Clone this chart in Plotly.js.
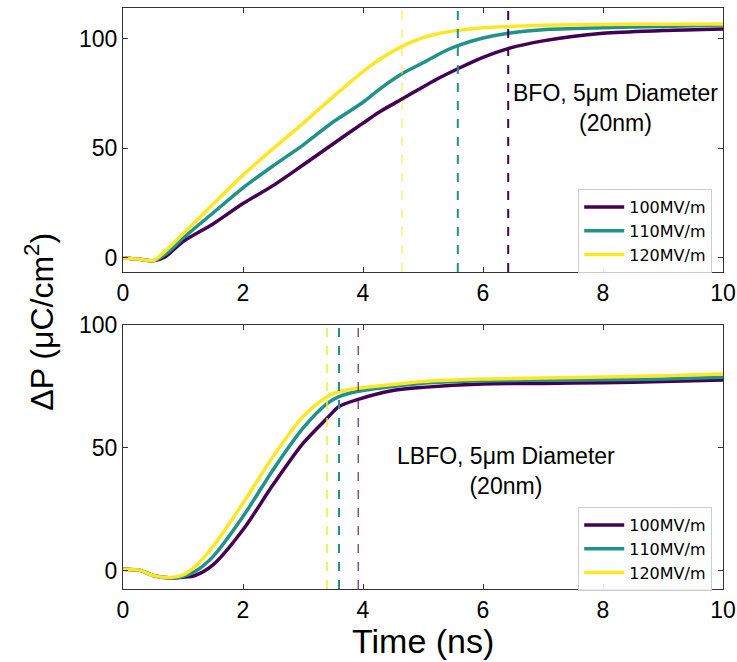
<!DOCTYPE html>
<html><head><meta charset="utf-8">
<script src="https://cdn.plot.ly/plotly-3.0.1.min.js"></script>
<style>html,body{margin:0;padding:0;background:#fff}#chart{width:737px;height:662px}</style>
</head><body><div id="chart"></div>
<script>
const seriesNames = ['100MV/m', '110MV/m', '120MV/m'];
const colors = ['#440154', '#21918c', '#fde725'];

// Top panel: BFO
const timeTop = [0, 0.25, 0.5, 0.7, 1, 1.5, 2, 2.5, 3, 3.5, 4, 4.3, 4.65, 5, 5.3, 5.58, 6, 6.42, 7, 8, 9, 10];
const bfo100 = [0, -0.5, -1.3, 0.5, 7.5, 15.5, 24.8, 33, 42.4, 52, 61.5, 67, 72.5, 78, 82.5, 86.3, 91.5, 95.5, 99, 102.5, 103.7, 104.4];
const bfo110 = [0, -0.5, -1.3, 1.5, 9, 20.5, 32, 42, 51.5, 62, 71, 77.5, 84, 89, 93.5, 96.8, 100.3, 102.5, 104.1, 105, 105.6, 106.2];
const bfo120 = [0, -0.5, -1.2, 3, 11, 24.5, 37.8, 49.8, 61.4, 73.5, 85, 91, 96.5, 100.5, 102.6, 103.8, 105, 105.6, 106.1, 106.5, 106.6, 106.7];
const bfoMarks = [6.42, 5.58, 4.65];

// Bottom panel: LBFO
const timeBot = [0, 0.3, 0.5, 0.8, 1, 1.2, 1.5, 2, 2.5, 3, 3.4, 3.6, 3.92, 4.5, 5, 6, 7, 8, 9, 10];
const lbfo100 = [0.5, 0, -2, -3, -2.7, -2, 2.3, 16.6, 34.9, 51.8, 62, 66.8, 69.7, 73.3, 74.6, 76, 76.2, 76.5, 77, 77.6];
const lbfo110 = [0.5, 0, -2, -3, -2.4, -0.4, 5.7, 22, 41, 58, 68, 70.8, 73, 75, 76.3, 77.3, 77.5, 77.7, 78, 78.7];
const lbfo120 = [0.5, 0, -2, -2.8, -1.8, 1.6, 9.8, 27.4, 46.4, 62.7, 70.8, 72.9, 74.3, 75.8, 77, 78, 78.4, 78.8, 79.3, 80];
const lbfoMarks = [3.92, 3.6, 3.4];

const topWidths = [2, 2, 1];
const botWidths = [1, 2, 1.5];

const topSeries = [bfo100, bfo110, bfo120];
const botSeries = [lbfo100, lbfo110, lbfo120];

const traces = [];
topSeries.forEach((ys, i) => traces.push({
  x: timeTop, y: ys, type: 'scatter', mode: 'lines', name: seriesNames[i],
  line: {color: colors[i], width: 3.5, shape: 'spline', smoothing: 0.8},
  xaxis: 'x', yaxis: 'y', legend: 'legend'
}));
botSeries.forEach((ys, i) => traces.push({
  x: timeBot, y: ys, type: 'scatter', mode: 'lines', name: seriesNames[i],
  line: {color: colors[i], width: 3.5, shape: 'spline', smoothing: 0.8},
  xaxis: 'x2', yaxis: 'y2', legend: 'legend2'
}));

const shapes = [];
bfoMarks.forEach((v, i) => shapes.push({
  type: 'line', xref: 'x', yref: 'y domain', x0: v, x1: v, y0: 0, y1: 1,
  line: {color: colors[i], width: topWidths[i], dash: 'dash'}
}));
lbfoMarks.forEach((v, i) => shapes.push({
  type: 'line', xref: 'x2', yref: 'y2 domain', x0: v, x1: v, y0: 0, y1: 1,
  line: {color: colors[i], width: botWidths[i], dash: 'dash'}
}));

const tickFont = {family: 'Liberation Sans, Arial, sans-serif', size: 23, color: '#000'};
const axBase = {
  showgrid: false, zeroline: false, showline: true, linecolor: '#333', linewidth: 1,
  mirror: 'allticks', ticks: 'inside', ticklen: 5, tickcolor: '#333', tickwidth: 1,
  tickfont: tickFont
};

const legendBase = {
  bgcolor: 'rgba(255,255,255,0.9)', bordercolor: '#cccccc', borderwidth: 1,
  font: {family: 'DejaVu Sans, sans-serif', size: 16, color: '#000'},
  xanchor: 'right', yanchor: 'top', tracegroupgap: 0, itemwidth: 40
};

const layout = {
  width: 737, height: 662,
  margin: {l: 123, r: 14, t: 8, b: 73},
  paper_bgcolor: '#fff', plot_bgcolor: '#fff',
  showlegend: true,
  xaxis: Object.assign({}, axBase, {domain: [0, 1], range: [0, 10], dtick: 2, anchor: 'y'}),
  yaxis: Object.assign({}, axBase, {domain: [0.5456, 1], range: [-6.4, 114], tickvals: [0, 50, 100], anchor: 'x'}),
  xaxis2: Object.assign({}, axBase, {domain: [0, 1], range: [0, 10], dtick: 2, anchor: 'y2'}),
  yaxis2: Object.assign({}, axBase, {domain: [0, 0.4544], range: [-7.5, 100], tickvals: [0, 50, 100], anchor: 'x2'}),
  legend: Object.assign({}, legendBase, {x: 0.982, y: 0.6885}),
  legend2: Object.assign({}, legendBase, {x: 0.982, y: 0.141}),
  shapes: shapes,
  annotations: [
    {xref: 'x', yref: 'y', x: 8.2, y: 68.5, text: 'BFO, 5μm Diameter<br>(20nm)', showarrow: false,
     font: {family: 'Liberation Sans, Arial, sans-serif', size: 23, color: '#000'}, align: 'center'},
    {xref: 'x2', yref: 'y2', x: 6.38, y: 40.7, text: 'LBFO, 5μm Diameter<br>(20nm)', showarrow: false,
     font: {family: 'Liberation Sans, Arial, sans-serif', size: 23, color: '#000'}, align: 'center'},
    {xref: 'paper', yref: 'paper', x: -0.14, y: 0.46, xanchor: 'center', yanchor: 'middle', textangle: -90,
     text: 'ΔP (μC/cm<sup>2</sup>)', showarrow: false,
     font: {family: 'Liberation Sans, Arial, sans-serif', size: 32, color: '#000'}},
    {xref: 'paper', yref: 'paper', x: 0.5, y: -0.0895, xanchor: 'center', yanchor: 'middle',
     text: 'Time (ns)', showarrow: false,
     font: {family: 'Liberation Sans, Arial, sans-serif', size: 34, color: '#000'}}
  ]
};

Plotly.newPlot('chart', traces, layout, {staticPlot: true, displayModeBar: false});
</script></body></html>
